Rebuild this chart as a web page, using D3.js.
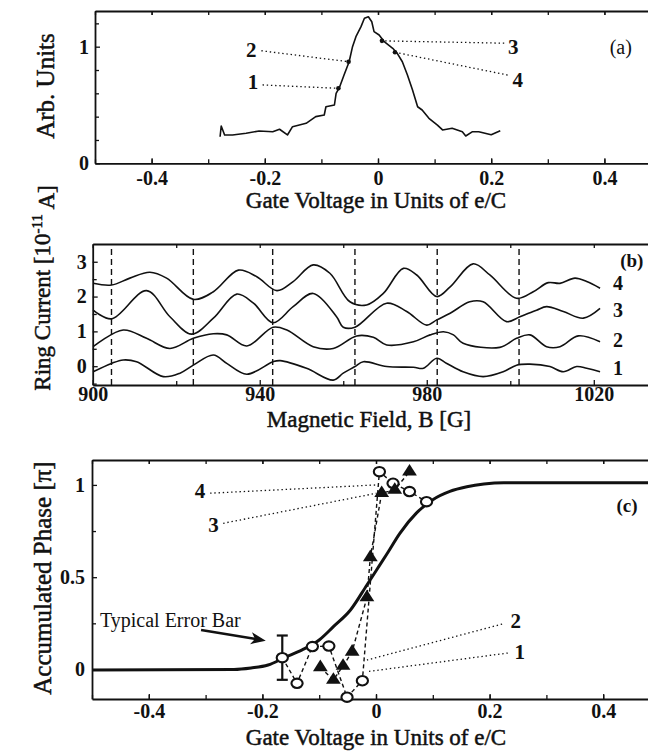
<!DOCTYPE html>
<html>
<head>
<meta charset="utf-8">
<script src="https://cdn.jsdelivr.net/npm/d3@7"></script>
<style>
  body { margin: 0; background: #fff; }
  svg { display: block; }
</style>
</head>
<body>
<svg id="fig" width="648" height="753"></svg>
<script>
// ---------------- data ----------------
// (a) signal vs gate voltage (units of e/C)
const gateA = [-0.279,-0.277,-0.271,-0.257,-0.233,-0.210,-0.186,-0.174,-0.160,-0.151,-0.127,-0.110,-0.095,-0.092,-0.077,-0.074,-0.068,-0.060,-0.051,-0.045,-0.039,-0.030,-0.024,-0.017,-0.011,-0.007,0.002,0.011,0.026,0.034,0.043,0.052,0.061,0.070,0.078,0.090,0.105,0.114,0.131,0.149,0.155,0.167,0.178,0.200,0.216];
const signalA = [0.228,0.320,0.243,0.243,0.257,0.277,0.271,0.292,0.243,0.314,0.343,0.400,0.414,0.485,0.500,0.600,0.652,0.757,0.871,1.000,1.086,1.172,1.244,1.257,1.214,1.129,1.100,1.043,0.986,0.943,0.871,0.757,0.629,0.485,0.457,0.386,0.328,0.286,0.300,0.271,0.234,0.271,0.271,0.245,0.280];
// operating points 1-4 on the gate sweep
const pointLabels = ["1", "2", "3", "4"];
const pointGate = [-0.070, -0.052, 0.007, 0.030];
const pointSignal = [0.643, 0.871, 1.050, 0.952];

// (b) ring current traces [field G, current 1e-11 A], offset traces 1..4
const trace1 = [[900.1,-0.16],[904.5,0.08],[907.3,0.18],[910.5,0.13],[916.9,-0.30],[920.9,-0.20],[924.1,0.03],[928.9,0.32],[932.1,0.08],[936.9,-0.23],[943.2,0.13],[944.9,0.16],[951.2,-0.06],[957.6,-0.40],[960.0,-0.20],[962.8,-0.01],[964.8,0.13],[970.4,-0.01],[976.8,-0.03],[979.2,-0.06],[982.4,0.23],[984.8,0.08],[988.7,-0.16],[993.5,-0.30],[998.3,-0.16],[1001.5,0.03],[1004.7,0.06],[1009.5,-0.01],[1012.7,-0.16],[1015.9,-0.01],[1018.3,-0.06],[1021.5,-0.16]];
const trace2 = [[900.1,0.56],[907.3,1.04],[912.9,0.80],[918.5,0.51],[924.1,0.80],[928.9,0.93],[932.1,0.90],[936.9,0.58],[943.2,1.12],[946.5,1.04],[952.8,0.56],[957.6,0.51],[963.2,0.87],[967.2,0.83],[970.4,0.61],[976.8,0.70],[980.8,0.90],[984.0,0.99],[986.4,0.90],[988.7,0.66],[997.5,0.54],[1001.5,0.80],[1004.7,0.90],[1008.7,0.56],[1011.9,0.56],[1016.3,0.87],[1021.5,0.70]];
const trace3 = [[900.1,1.61],[904.5,1.36],[912.9,2.17],[918.5,1.42],[923.7,0.92],[928.9,1.38],[934.5,2.07],[938.5,1.81],[943.2,1.25],[948.0,1.71],[952.8,2.09],[958.4,1.42],[960.0,1.12],[962.8,1.12],[970.4,1.81],[975.2,1.57],[980.0,1.18],[982.4,1.33],[985.6,1.52],[990.3,1.85],[993.5,1.85],[999.1,1.28],[1002.3,1.42],[1006.3,1.61],[1008.7,1.71],[1012.7,1.57],[1017.5,1.38],[1021.5,1.66]];
const trace4 = [[900.1,2.38],[904.5,2.33],[908.9,2.53],[913.7,2.70],[917.7,2.53],[924.1,1.92],[928.9,2.14],[934.9,2.76],[939.3,2.57],[944.1,2.17],[948.0,2.43],[952.8,2.91],[956.8,2.67],[961.6,1.85],[965.6,1.76],[969.6,2.09],[974.4,2.81],[977.6,2.62],[982.4,2.00],[985.6,2.28],[991.1,2.94],[995.1,2.62],[1001.5,1.95],[1005.5,2.14],[1009.1,2.40],[1011.9,2.38],[1015.5,2.53],[1018.3,2.43],[1021.5,2.24]];
const traceNames = ["1", "2", "3", "4"];
// field values of the dashed period markers
const periodMarks = [904.5, 924.1, 943.1, 962.8, 982.5, 1002.1];

// (c) accumulated phase (units of pi)
const circleGate  = [-0.165,-0.139,-0.112,-0.083,-0.051,-0.024,0.006,0.030,0.059,0.089];
const circlePhase = [0.064,-0.075,0.124,0.127,-0.150,-0.061,1.072,1.009,0.964,0.909];
const triangleGate  = [-0.098,-0.075,-0.058,-0.042,-0.016,-0.010,0.010,0.033,0.059];
const trianglePhase = [0.012,-0.057,0.019,0.096,0.390,0.608,0.955,0.973,1.072];
const theoryGate  = [-0.5,-0.25,-0.22,-0.19,-0.16,-0.13,-0.10,-0.075,-0.045,-0.016,0.001,0.020,0.042,0.071,0.100,0.130,0.160,0.190,0.225,0.5];
const theoryPhase = [-0.003,0.0,0.008,0.024,0.066,0.106,0.160,0.232,0.322,0.458,0.539,0.630,0.738,0.847,0.920,0.965,0.990,1.005,1.012,1.012];
const errorHalf = 0.12;

// axis ticks
const gateTicks = [-0.4, -0.2, 0, 0.2, 0.4];
const gateTickLabels = ["-0.4", "-0.2", "0", "0.2", "0.4"];
const gateMinor = [-0.5,-0.4,-0.3,-0.2,-0.1,0,0.1,0.2,0.3,0.4,0.5];
const arbTicks = [0, 1];
const arbMinor = [0.2, 0.4, 0.6, 0.8, 1.2];
const fieldTicks = [900, 940, 980, 1020];
const fieldMinor = [920, 960, 1000];
const currentTicks = [0, 1, 2, 3];
const currentMinor = [-0.5, 0.5, 1.5, 2.5];
const phaseTicks = [0, 0.5, 1];
const phaseTickLabels = ["0", "0.5", "1"];
const phaseMinor = [0.25, 0.75];

// ---------------- drawing ----------------
const ink = "#111";
const serif = "'Liberation Serif', 'Times New Roman', Times, serif";
const svg = d3.select("#fig");
svg.append("rect").attr("width", 648).attr("height", 753).attr("fill", "#fff");

function styleAxis(sel, size, weight) {
  sel.attr("font-family", null).attr("font-size", null);
  sel.select(".domain").attr("stroke", ink).attr("stroke-width", 1.8);
  sel.selectAll(".tick line").attr("stroke", ink).attr("stroke-width", 1.3);
  sel.selectAll(".tick text")
    .attr("fill", ink).attr("font-family", serif)
    .attr("font-size", size).attr("font-weight", weight);
}

// frame with inward ticks: left axis, bottom axis, top line (no right edge)
function drawFrame(g, x, y, o) {
  const [xl, xr] = x.range();
  const [yb, yt] = y.range();
  const bottom = g.append("g").attr("transform", `translate(0,${yb})`)
    .call(d3.axisBottom(x).tickValues(o.xTicks).tickFormat((d, i) => o.xLabels[i])
      .tickSizeInner(-5).tickSizeOuter(0).tickPadding(o.xPad));
  styleAxis(bottom, 20, "bold");
  const bMinor = g.append("g").attr("transform", `translate(0,${yb})`)
    .call(d3.axisBottom(x).tickValues(o.xMinor).tickFormat("").tickSizeInner(-4).tickSizeOuter(0));
  bMinor.select(".domain").remove();
  styleAxis(bMinor, 0, "normal");

  const top = g.append("g").attr("transform", `translate(0,${yt})`)
    .call(d3.axisTop(x).tickValues(o.xMinor.concat(o.xTicks)).tickFormat("").tickSizeInner(-4).tickSizeOuter(0));
  styleAxis(top, 0, "normal");

  const left = g.append("g").attr("transform", `translate(${xl},0)`)
    .call(d3.axisLeft(y).tickValues(o.yTicks).tickFormat((d, i) => o.yLabels[i])
      .tickSizeInner(-5).tickSizeOuter(0).tickPadding(o.yPad));
  styleAxis(left, 20, "bold");
  const lMinor = g.append("g").attr("transform", `translate(${xl},0)`)
    .call(d3.axisLeft(y).tickValues(o.yMinor).tickFormat("").tickSizeInner(-4).tickSizeOuter(0));
  lMinor.select(".domain").remove();
  styleAxis(lMinor, 0, "normal");
}

function label(g, x, y, txt, size, weight, anchor) {
  return g.append("text").attr("x", x).attr("y", y)
    .attr("dy", "0.35em")
    .attr("text-anchor", anchor || "middle")
    .attr("font-family", serif).attr("font-size", size)
    .attr("font-weight", weight || "normal")
    .attr("fill", ink).text(txt);
}

function title(g, x, y, txt, size) {
  return g.append("text").attr("x", x).attr("y", y)
    .attr("text-anchor", "middle")
    .attr("font-family", serif).attr("font-size", size)
    .attr("fill", ink).attr("stroke", ink).attr("stroke-width", 0.5)
    .text(txt);
}

function yTitle(g, x, y, size) {
  return g.append("text")
    .attr("transform", `translate(${x},${y}) rotate(-90)`)
    .attr("text-anchor", "middle")
    .attr("font-family", serif).attr("font-size", size)
    .attr("fill", ink).attr("stroke", ink).attr("stroke-width", 0.5);
}

function leader(g, x, y, from, to) {
  g.append("line")
    .attr("x1", x(from[0])).attr("y1", y(from[1]))
    .attr("x2", x(to[0])).attr("y2", y(to[1]))
    .attr("stroke", ink).attr("stroke-width", 1.3)
    .attr("stroke-dasharray", "1.4,2.8");
}

// ===== panel (a) =====
{
  const g = svg.append("g");
  const x = d3.scaleLinear().domain([-0.5, 0.5]).range([95, 661]);
  const y = d3.scaleLinear().domain([0, 1.306]).range([163.3, 11]);
  drawFrame(g, x, y, {
    xTicks: gateTicks, xLabels: gateTickLabels, xMinor: gateMinor, xPad: 8,
    yTicks: arbTicks, yLabels: ["0", "1"], yMinor: arbMinor, yPad: 6
  });
  const pts = gateA.map((v, i) => [v, signalA[i]]);
  g.append("path").datum(pts)
    .attr("fill", "none").attr("stroke", ink).attr("stroke-width", 1.6)
    .attr("stroke-linejoin", "round")
    .attr("d", d3.line().x(d => x(d[0])).y(d => y(d[1])));

  // annotations: label position, leader start
  const ann = [
    { at: [-0.221, 0.70], from: [-0.204, 0.672] },
    { at: [-0.224, 0.972], from: [-0.206, 0.965] },
    { at: [0.239, 0.997], from: [0.223, 1.03] },
    { at: [0.247, 0.714], from: [0.229, 0.757] }
  ];
  pointLabels.forEach((t, i) => {
    leader(g, x, y, ann[i].from, [pointGate[i], pointSignal[i]]);
    g.append("circle").attr("cx", x(pointGate[i])).attr("cy", y(pointSignal[i]))
      .attr("r", 2.3).attr("fill", ink);
    label(g, x(ann[i].at[0]), y(ann[i].at[1]), t, 21, "bold");
  });
  label(g, x(0.429), y(1.0), "(a)", 20, "normal");
  title(g, 376, 208, "Gate Voltage in Units of e/C", 23);
  yTitle(g, 54, 86, 25).text("Arb. Units");
}

// ===== panel (b) =====
{
  const g = svg.append("g");
  const x = d3.scaleLinear().domain([900, 1033.1]).range([92.7, 648.5]);
  const y = d3.scaleLinear().domain([-0.54, 3.51]).range([385, 244]);
  // dashed period markers
  g.selectAll("line.period").data(periodMarks).join("line")
    .attr("class", "period")
    .attr("x1", d => x(d)).attr("x2", d => x(d))
    .attr("y1", y.range()[0]).attr("y2", y.range()[1])
    .attr("stroke", ink).attr("stroke-width", 1.4)
    .attr("stroke-dasharray", "6,4");
  drawFrame(g, x, y, {
    xTicks: fieldTicks, xLabels: fieldTicks.map(String), xMinor: fieldMinor, xPad: 2,
    yTicks: currentTicks, yLabels: currentTicks.map(String), yMinor: currentMinor, yPad: 6
  });
  const line = d3.line().x(d => x(d[0])).y(d => y(d[1])).curve(d3.curveCatmullRom.alpha(0.5));
  [trace1, trace2, trace3, trace4].forEach(tr => {
    g.append("path").datum(tr)
      .attr("fill", "none").attr("stroke", ink).attr("stroke-width", 1.6)
      .attr("d", line);
  });
  const nameY = [-0.06, 0.75, 1.61, 2.38];
  traceNames.forEach((t, i) => label(g, x(1025.8), y(nameY[i]), t, 20, "bold"));
  label(g, x(1029.1), y(3.03), "(b)", 19, "bold");
  title(g, 369, 427, "Magnetic Field, B [G]", 23);
  const yt = yTitle(g, 50, 288, 23);
  yt.append("tspan").text("Ring Current [10");
  yt.append("tspan").attr("dy", "-0.55em").attr("font-size", 15).text("-11");
  yt.append("tspan").attr("dy", "0.55em").text(" A]");
}

// ===== panel (c) =====
{
  const g = svg.append("g");
  const x = d3.scaleLinear().domain([-0.5, 0.5]).range([92, 660]);
  const y = d3.scaleLinear().domain([-0.16, 1.135]).range([699, 460]);
  drawFrame(g, x, y, {
    xTicks: gateTicks, xLabels: gateTickLabels, xMinor: gateMinor, xPad: 5,
    yTicks: phaseTicks, yLabels: phaseTickLabels, yMinor: phaseMinor, yPad: 7
  });

  // theory curve
  g.append("path").datum(theoryGate.map((v, i) => [v, theoryPhase[i]]))
    .attr("fill", "none").attr("stroke", ink).attr("stroke-width", 3)
    .attr("d", d3.line().x(d => x(d[0])).y(d => y(d[1])).curve(d3.curveMonotoneX));

  // dashed connections between measured points
  const dashed = d3.line().x(d => x(d[0])).y(d => y(d[1]));
  const circ = circleGate.map((v, i) => [v, circlePhase[i]]);
  const tri = triangleGate.map((v, i) => [v, trianglePhase[i]]);
  [circ, tri].forEach(s => g.append("path").datum(s)
    .attr("fill", "none").attr("stroke", ink).attr("stroke-width", 1.4)
    .attr("stroke-dasharray", "4,3").attr("d", dashed));

  // typical error bar on the first circle
  const eb = g.append("g").attr("stroke", ink).attr("stroke-width", 2.2);
  const ex = x(circleGate[0]);
  eb.append("line").attr("x1", ex).attr("x2", ex)
    .attr("y1", y(circlePhase[0] + errorHalf)).attr("y2", y(circlePhase[0] - errorHalf));
  [1, -1].forEach(s => eb.append("line")
    .attr("x1", ex - 5.5).attr("x2", ex + 5.5)
    .attr("y1", y(circlePhase[0] + s * errorHalf)).attr("y2", y(circlePhase[0] + s * errorHalf)));

  // markers
  g.selectAll("ellipse.pt").data(circ).join("ellipse")
    .attr("class", "pt")
    .attr("cx", d => x(d[0])).attr("cy", d => y(d[1]))
    .attr("rx", 5.6).attr("ry", 4.7)
    .attr("fill", "#fff").attr("stroke", ink).attr("stroke-width", 2.1);
  const triPath = d3.symbol(d3.symbolTriangle, 78)();
  g.selectAll("path.tri").data(tri).join("path")
    .attr("class", "tri")
    .attr("transform", d => `translate(${x(d[0])},${y(d[1])}) scale(1.1,1)`)
    .attr("d", triPath).attr("fill", ink);

  // labelled leaders 1-4
  const ann = [
    { t: "1", at: [0.253, 0.096], from: [0.232, 0.089], to: [-0.016, -0.012] },
    { t: "2", at: [0.246, 0.263], from: [0.222, 0.246], to: [-0.016, 0.051] },
    { t: "3", at: [-0.286, 0.783], from: [-0.269, 0.792], to: [0.001, 0.955] },
    { t: "4", at: [-0.31, 0.967], from: [-0.292, 0.955], to: [0.001, 1.0] }
  ];
  ann.forEach(a => {
    leader(g, x, y, a.from, a.to);
    label(g, x(a.at[0]), y(a.at[1]), a.t, 21, "bold");
  });

  // "Typical Error Bar" note with arrow
  g.append("text").attr("x", x(-0.486)).attr("y", y(0.23))
    .attr("font-family", serif).attr("font-size", 20).attr("fill", ink)
    .text("Typical Error Bar");
  const a0 = [x(-0.308), y(0.214)], a1 = [x(-0.194), y(0.156)];
  const ang = Math.atan2(a1[1] - a0[1], a1[0] - a0[0]);
  g.append("line").attr("x1", a0[0]).attr("y1", a0[1])
    .attr("x2", a1[0] - 10 * Math.cos(ang)).attr("y2", a1[1] - 10 * Math.sin(ang))
    .attr("stroke", ink).attr("stroke-width", 2.4);
  g.append("path")
    .attr("transform", `translate(${a1[0]},${a1[1]}) rotate(${ang * 180 / Math.PI})`)
    .attr("d", "M0,0L-15,-6L-11,0L-15,6Z").attr("fill", ink);

  label(g, x(0.442), y(0.89), "(c)", 19, "bold");
  title(g, 376, 745, "Gate Voltage in Units of e/C", 23);
  yTitle(g, 51, 578, 25).text("Accumulated Phase [\u03c0]");
}
</script>
</body>
</html>
